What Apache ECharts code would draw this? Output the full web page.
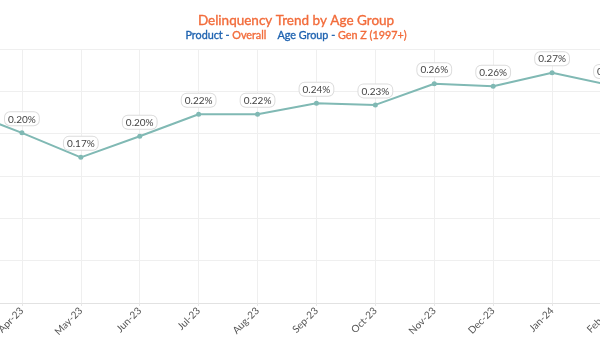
<!DOCTYPE html>
<html>
<head>
<meta charset="utf-8">
<script src="https://cdn.jsdelivr.net/npm/echarts@6/dist/echarts.min.js"></script>
<style>
html,body{margin:0;padding:0;background:#fff;overflow:hidden;}
#chart{width:600px;height:350px;}
</style>
</head>
<body>
<div id="chart"></div>
<script>
const months = ['Mar-23','Apr-23','May-23','Jun-23','Jul-23','Aug-23','Sep-23','Oct-23','Nov-23','Dec-23','Jan-24','Feb-24'];
const delinquencyRate = [0.228, 0.201, 0.172, 0.197, 0.223, 0.223, 0.236, 0.234, 0.259, 0.256, 0.272, 0.257];
const yTicks = [0, 0.05, 0.10, 0.15, 0.20, 0.25, 0.30];
const titleText = 'Delinquency Trend by Age Group';
const productName = 'Overall';
const ageGroupName = 'Gen Z (1997+)';

const orange = '#F26B3A';
const blue = '#1F63B0';

const chart = echarts.init(document.getElementById('chart'));
chart.setOption({
  animation: false,
  backgroundColor: '#fff',
  textStyle: {fontFamily: 'Lato'},
  title: {
    text: titleText,
    subtext: '{b|Product - }{o|' + productName + '}    {b|Age Group - }{o|' + ageGroupName + '}',
    left: 291,
    textAlign: 'center',
    top: 9,
    itemGap: 2,
    textStyle: {fontFamily: 'Lato', fontSize: 13.5, fontWeight: 'normal', color: orange,
      textBorderColor: orange, textBorderWidth: 0.35},
    subtextStyle: {
      fontFamily: 'Lato', fontSize: 10.8,
      rich: {
        b: {fontFamily: 'Lato', fontSize: 10.8, fontWeight: 'normal', color: blue, textBorderColor: blue, textBorderWidth: 0.35},
        o: {fontFamily: 'Lato', fontSize: 10.8, fontWeight: 'normal', color: orange, textBorderColor: orange, textBorderWidth: 0.35}
      }
    }
  },
  grid: {left: -37, right: -11, top: 49, bottom: 47, outerBoundsMode: 'none', containLabel: false},
  xAxis: {
    type: 'category',
    data: months,
    boundaryGap: false,
    axisLine: {lineStyle: {color: '#e2e2e2', width: 1}},
    axisTick: {show: true, length: 3, lineStyle: {color: '#e6e6e6'}},
    axisLabel: {rotate: 45, fontSize: 10, color: '#555', fontFamily: 'Lato', margin: 6},
    splitLine: {show: true, lineStyle: {color: '#efefef'}}
  },
  yAxis: {
    type: 'value',
    min: yTicks[0],
    max: yTicks[yTicks.length - 1],
    interval: 0.05,
    axisLabel: {show: false},
    axisLine: {show: false},
    axisTick: {show: false},
    splitLine: {lineStyle: {color: '#efefef'}}
  },
  series: [{
    type: 'line',
    data: delinquencyRate,
    symbol: 'circle',
    symbolSize: 5,
    lineStyle: {color: '#80b9b4', width: 2},
    itemStyle: {color: '#80b9b4'},
    label: {
      show: true,
      position: 'top',
      distance: 5,
      formatter: p => p.value.toFixed(2) + '%',
      fontFamily: 'Lato',
      fontSize: 10,
      color: '#444',
      backgroundColor: '#fff',
      borderColor: '#dcdcdc',
      borderWidth: 1,
      borderRadius: 5,
      padding: [2, 3, 1, 3]
    }
  }]
});
</script>
</body>
</html>
